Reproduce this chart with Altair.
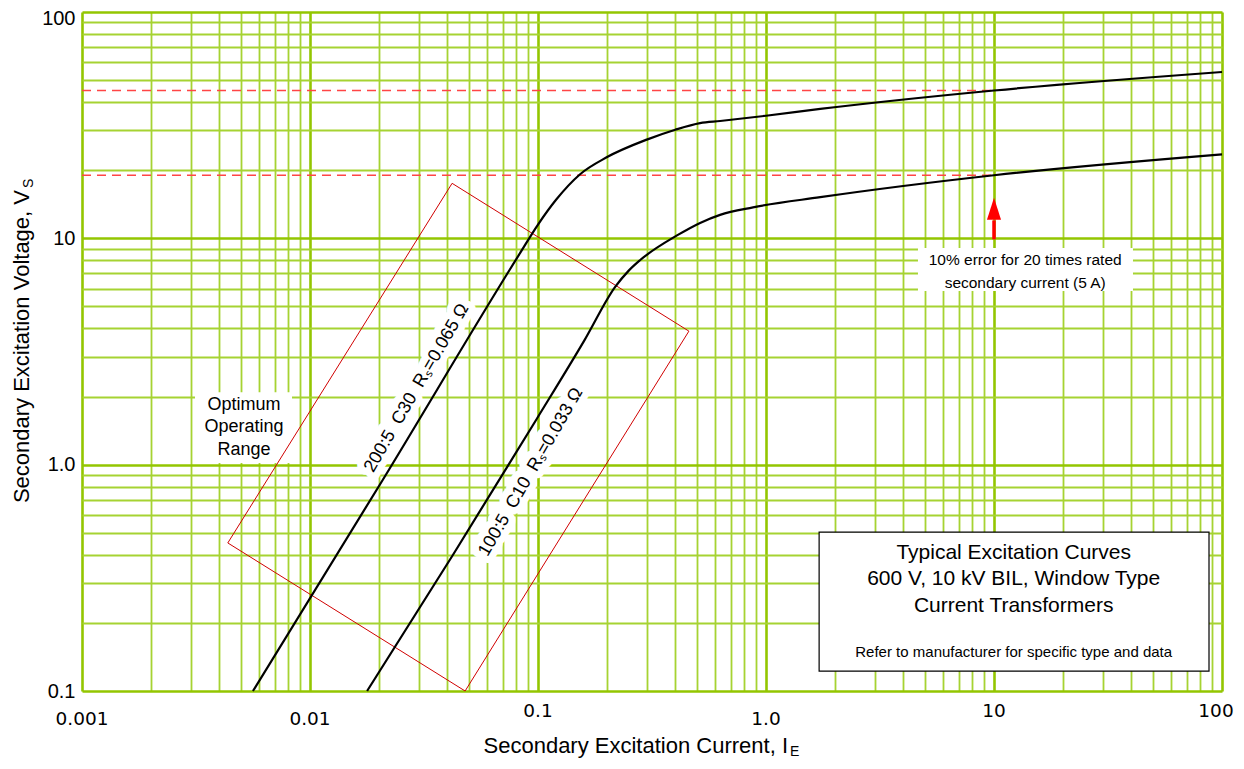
import altair as alt
import pandas as pd

W, H = 1140, 679

# ---- data ----
c1_x = [0.00562, 0.0209, 0.0834, 0.1, 0.12, 0.153, 0.2, 0.3, 0.4, 0.514, 0.629, 1.0, 1.73, 10, 100]
c1_y = [0.1, 0.86, 8.6, 11.5, 14.8, 19.2, 22.8, 27.3, 30.2, 32.3, 33.0, 34.8, 37.3, 45, 54.3]
c2_x = [0.0178, 0.0424, 0.099, 0.16, 0.218, 0.25, 0.28, 0.407, 0.514, 0.629, 0.877, 1.73, 10, 100]
c2_y = [0.1, 0.4, 1.6, 3.55, 6.1, 7.2, 8.0, 10.3, 11.7, 12.7, 13.7, 15.2, 19, 23.5]
series_names = ["200:5 C30", "100:5 C10"]

rect_x = [0.042, 0.459, 0.0479, 0.00436, 0.042]
rect_y = [17.5, 3.89, 0.1, 0.451, 17.5]

dash_levels = [45, 19]
dash_x_start = 0.001
dash_x_end = 10

arrow_x = 10
arrow_y0 = 9.9
arrow_y1 = 12.0
arrow_head_y = 13.5

xt_vals = [0.001, 0.01, 0.1, 1, 10, 100]
xt_labels = ["0.001", "0.01", "0.1", "1.0", "10", "100"]
xt_high = ["0.1", "10"]
xt_edge = ["100"]

xgrid = [round(m * 10 ** e, 6) for e in range(-3, 2) for m in range(1, 10)] + [100]
ygrid = [round(m * 10 ** e, 6) for e in range(-1, 2) for m in range(1, 10)] + [100]

curve_labels = ["200:5\u00a0\u00a0C30\u00a0\u00a0R\u209b=0.065\u00a0\u03a9",
                "100:5\u00a0\u00a0C10\u00a0\u00a0R\u209b=0.033\u00a0\u03a9"]
curve_label_x = [0.0294, 0.0931]
curve_label_y = [2.18, 0.927]

opt_lines = ["Optimum", "Operating", "Range"]
opt_x = 0.00514
opt_y = [1.834, 1.466, 1.16]
opt_box = dict(x=0.00313, x2=0.00834, y=2.09, y2=1.016)

err_lines = ["10% error for 20 times rated", "secondary current (5 A)"]
err_x = 13.7
err_y = [8.0, 6.35]
err_box = dict(x=4.64, x2=40.7, y=9.06, y2=5.85)

info_lines = ["Typical Excitation Curves", "600 V, 10 kV BIL, Window Type", "Current Transformers",
              "Refer to manufacturer for specific type and data"]
info_sizes = [21, 21, 21, 15]
info_x = 12.2
info_y = [0.4068, 0.312, 0.237, 0.1486]
info_box = dict(x=1.71, x2=87.7, y=0.503, y2=0.1225)

# ---- tables ----
curves = pd.DataFrame({
    "x": c1_x + c2_x,
    "y": c1_y + c2_y,
    "s": [series_names[0]] * len(c1_x) + [series_names[1]] * len(c2_x),
})
rect_df = pd.DataFrame({"x": rect_x, "y": rect_y, "o": list(range(len(rect_x)))})
dash_df = pd.DataFrame({"x": [dash_x_start] * len(dash_levels), "x2": [dash_x_end] * len(dash_levels), "y": dash_levels})
shaft_df = pd.DataFrame({"x": [arrow_x], "y": [arrow_y0], "y2": [arrow_y1]})
head_df = pd.DataFrame({"x": [arrow_x], "y": [arrow_head_y]})
xt_df = pd.DataFrame({"x": xt_vals, "label": xt_labels})
cl_df = pd.DataFrame({"x": curve_label_x, "y": curve_label_y, "t": curve_labels})
opt_df = pd.DataFrame({"x": [opt_x] * 3, "y": opt_y, "t": opt_lines})
err_df = pd.DataFrame({"x": [err_x] * 2, "y": err_y, "t": err_lines})
info_df = pd.DataFrame({"x": [info_x] * 4, "y": info_y, "t": info_lines, "fs": info_sizes})
boxes = pd.DataFrame([opt_box, err_box])
info_box_df = pd.DataFrame([info_box])

XS = alt.Scale(type="log", domain=[0.001, 100])
YS = alt.Scale(type="log", domain=[0.1, 100])
DEC = "abs(log(datum.value)/LN10 - round(log(datum.value)/LN10)) < 0.001"
GC = {"condition": {"test": DEC, "value": "#93c600"}, "value": "#a6d332"}
GW = {"condition": {"test": DEC, "value": 2.6}, "value": 1.8}

xaxis = alt.Axis(values=xgrid, grid=True, labels=False, ticks=False, domain=False, title=None,
                 gridColor=GC, gridWidth=GW, gridOpacity=1)
yaxis = alt.Axis(values=ygrid, grid=True, ticks=False, domain=False, title=None,
                 gridColor=GC, gridWidth=GW, gridOpacity=1, labelOverlap=False, labelFlush=False,
                 labelFont="Liberation Sans", labelFontSize=20, labelColor="black", labelPadding=7,
                 labelOffset={"condition": {"test": "datum.value == 100", "value": 6}, "value": 0},
                 labelExpr="datum.value == 100 ? '100' : datum.value == 10 ? '10' : datum.value == 1 ? '1.0' : datum.value == 0.1 ? '0.1' : ''")


def X(f="x"):
    return alt.X(f, type="quantitative", scale=XS, axis=xaxis)


def Y(f="y"):
    return alt.Y(f, type="quantitative", scale=YS, axis=yaxis)


# white boxes
box_layer = alt.Chart(boxes).mark_rect(color="white").encode(
    x=X(), x2="x2:Q", y=Y(), y2="y2:Q")

info_rect = alt.Chart(info_box_df).mark_rect(fill="white", stroke="black", strokeWidth=1.2).encode(
    x=X(), x2="x2:Q", y=Y(), y2="y2:Q")

# halos behind curve labels
halo = alt.Chart(cl_df).mark_text(font="Liberation Sans", fontSize=18, angle=300, align="center",
                                  baseline="middle", stroke="white", strokeWidth=14, fill="white",
                                  strokeJoin="round").encode(x=X(), y=Y(), text="t:N")

dashes = alt.Chart(dash_df).mark_rule(color="#ff4545", strokeWidth=1.5, strokeDash=[9, 6]).encode(
    x=X(), x2="x2:Q", y=Y())

rect_line = alt.Chart(rect_df).mark_line(color="#d00000", strokeWidth=1).encode(
    x=X(), y=Y(), order="o:Q")

curve_layer = alt.Chart(curves).mark_line(color="black", strokeWidth=2.2, interpolate="monotone").encode(
    x=X(), y=Y(), detail="s:N")

shaft = alt.Chart(shaft_df).mark_rule(color="#ff0000", strokeWidth=3.5).encode(
    x=X(), y=Y(), y2="y2:Q")
head = alt.Chart(head_df).mark_point(shape="M0,-1L-0.64,1L0.64,1Z", filled=True, color="#ff0000",
                                     size=484, opacity=1).encode(x=X(), y=Y())

cl_text = alt.Chart(cl_df).mark_text(font="Liberation Sans", fontSize=18, angle=300, align="center",
                                     baseline="middle", color="black").encode(x=X(), y=Y(), text="t:N")

opt_text = alt.Chart(opt_df).mark_text(font="Liberation Sans", fontSize=18, align="center",
                                       baseline="middle", color="black").encode(x=X(), y=Y(), text="t:N")
err_text = alt.Chart(err_df).mark_text(font="Liberation Sans", fontSize=15.5, align="center",
                                       baseline="middle", color="black").encode(x=X(), y=Y(), text="t:N")
info_text = alt.Chart(info_df).mark_text(font="Liberation Sans", align="center",
                                         baseline="middle", color="black").encode(
    x=X(), y=Y(), text="t:N", size=alt.Size("fs:Q", scale=None, legend=None))

HIGH_TEST = "indexof(" + str(xt_high) + ", datum.label) >= 0"
EDGE_TEST = "indexof(" + str(xt_edge) + ", datum.label) >= 0"
xt_text_hi = alt.Chart(xt_df).transform_filter(HIGH_TEST).mark_text(
    font="DejaVu Sans", fontSize=18.5, align="center", baseline="middle", color="black").encode(
    x=X(), y=alt.value(H + 20), text="label:N")
xt_text_edge = alt.Chart(xt_df).transform_filter(EDGE_TEST).mark_text(
    font="DejaVu Sans", fontSize=18.5, align="center", baseline="middle", color="black", dx=-6).encode(
    x=X(), y=alt.value(H + 20), text="label:N")
xt_text_lo = alt.Chart(xt_df).transform_filter("!(" + HIGH_TEST + ") && !(" + EDGE_TEST + ")").mark_text(
    font="DejaVu Sans", fontSize=18.5, align="center", baseline="middle", color="black").encode(
    x=X(), y=alt.value(H + 28), text="label:N")

# axis titles with subscripts
ytitle = alt.Chart(pd.DataFrame({"t": ["Secondary Excitation Voltage, V"]})).mark_text(
    font="Liberation Sans", fontSize=22, angle=270, align="right", baseline="middle", color="black").encode(
    x=alt.value(-60), y=alt.value(178), text="t:N")
ysub = alt.Chart(pd.DataFrame({"t": ["S"]})).mark_text(
    font="Liberation Sans", fontSize=14, angle=270, align="left", baseline="middle", color="black").encode(
    x=alt.value(-53), y=alt.value(176), text="t:N")
xtitle = alt.Chart(pd.DataFrame({"t": ["Secondary Excitation Current, I"]})).mark_text(
    font="Liberation Sans", fontSize=22, align="right", baseline="middle", color="black").encode(
    x=alt.value(706), y=alt.value(734), text="t:N")
xsub = alt.Chart(pd.DataFrame({"t": ["E"]})).mark_text(
    font="Liberation Sans", fontSize=14, align="left", baseline="middle", color="black").encode(
    x=alt.value(708), y=alt.value(740), text="t:N")

chart = alt.layer(
    box_layer, info_rect, halo, dashes, rect_line, curve_layer, shaft, head,
    cl_text, opt_text, err_text, info_text, xt_text_hi, xt_text_edge, xt_text_lo,
    ytitle, ysub, xtitle, xsub
).properties(
    width=W, height=H,
    autosize=alt.AutoSizeParams(type="none"),
    padding={"left": 74, "top": 4, "right": 14, "bottom": 70},
).configure_view(
    stroke="#93c600", strokeWidth=3
).configure(background="white")

chart.save("out.html", embed_options={"renderer": "svg", "actions": False})
